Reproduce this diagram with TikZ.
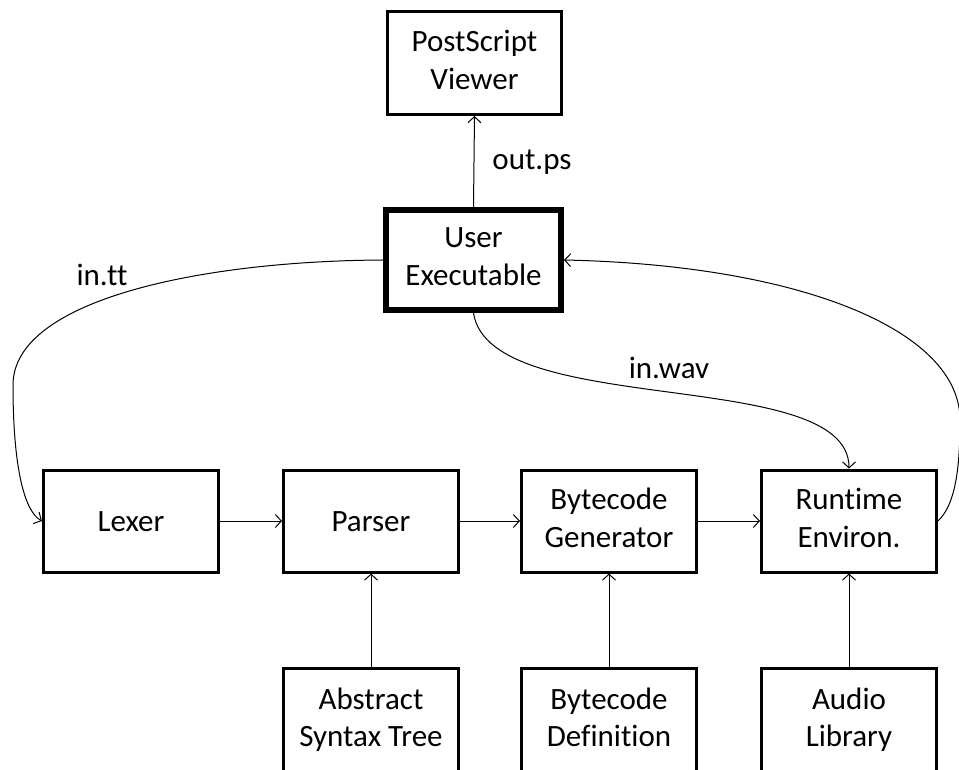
\documentclass[tikz,border=0pt]{standalone}
\usepackage{fontspec}
\setmainfont{Carlito}[Ligatures=NoCommon]
\usetikzlibrary{arrows.meta}
\newcommand{\topstrt}{\rule{0pt}{28pt}}
\newcommand{\botstrt}{\rule[-6.5pt]{0pt}{6.5pt}}
\begin{document}
\begin{tikzpicture}[x=1pt,y=-1pt,
  box/.style={draw, line width=3pt, minimum width=175pt, minimum height=102pt, align=center, inner sep=0pt, font=\fontsize{31}{37.5}\selectfont, execute at begin node=\topstrt, execute at end node=\botstrt},
  mainbox/.style={box, line width=6pt, minimum width=175pt, minimum height=100pt},
  lbl/.style={font=\fontsize{31}{37.5}\selectfont, anchor=base, inner sep=0pt},
  conn/.style={line width=1pt, -{Straight Barb[length=6pt,width=13pt,line width=1pt]}}]
\useasboundingbox (0,0) rectangle (959,770);
\node[box, minimum width=174pt, minimum height=103pt] (PS) at (474.5,63) {PostScript\\Viewer};
\node[mainbox] (UE) at (473.5,260) {User\\Executable};
\node[box] (Lexer) at (131,521) {Lexer};
\node[box] (Parser) at (371,521) {Parser};
\node[box] (BG) at (609,521) {Bytecode\\Generator};
\node[box] (RE) at (849,521) {Runtime\\Environ.};
\node[box, minimum height=104pt] (AST) at (371,720.5) {Abstract\\Syntax Tree};
\node[box, minimum height=104pt] (BD) at (609,720.5) {Bytecode\\Definition};
\node[box, minimum height=104pt] (AL) at (849,720.5) {Audio\\Library};
\node[lbl] (intt) at (102,286) {in.tt};
\node[lbl] (outps) at (532,170) {out.ps};
\node[lbl] (inwav) at (669,378) {in.wav};
\draw[conn] (UE.north) -- (PS.south);
\draw[conn] (Lexer) -- (Parser);
\draw[conn] (Parser) -- (BG);
\draw[conn] (BG) -- (RE);
\draw[conn] (AST) -- (Parser);
\draw[conn] (BD) -- (BG);
\draw[conn] (AL) -- (RE);
\draw[conn] (UE.west) .. controls (200,261) and (13,300) .. (13,385) .. controls (13,470) and (25,512) .. (Lexer.west);
\draw[conn] (RE.east) .. controls (955,505) and (960,470) .. (960,420) .. controls (960,330) and (800,265) .. (UE.east);
\draw[conn] (UE.south) .. controls (490,420) and (849,365) .. (RE.north);
\end{tikzpicture}
\end{document}
